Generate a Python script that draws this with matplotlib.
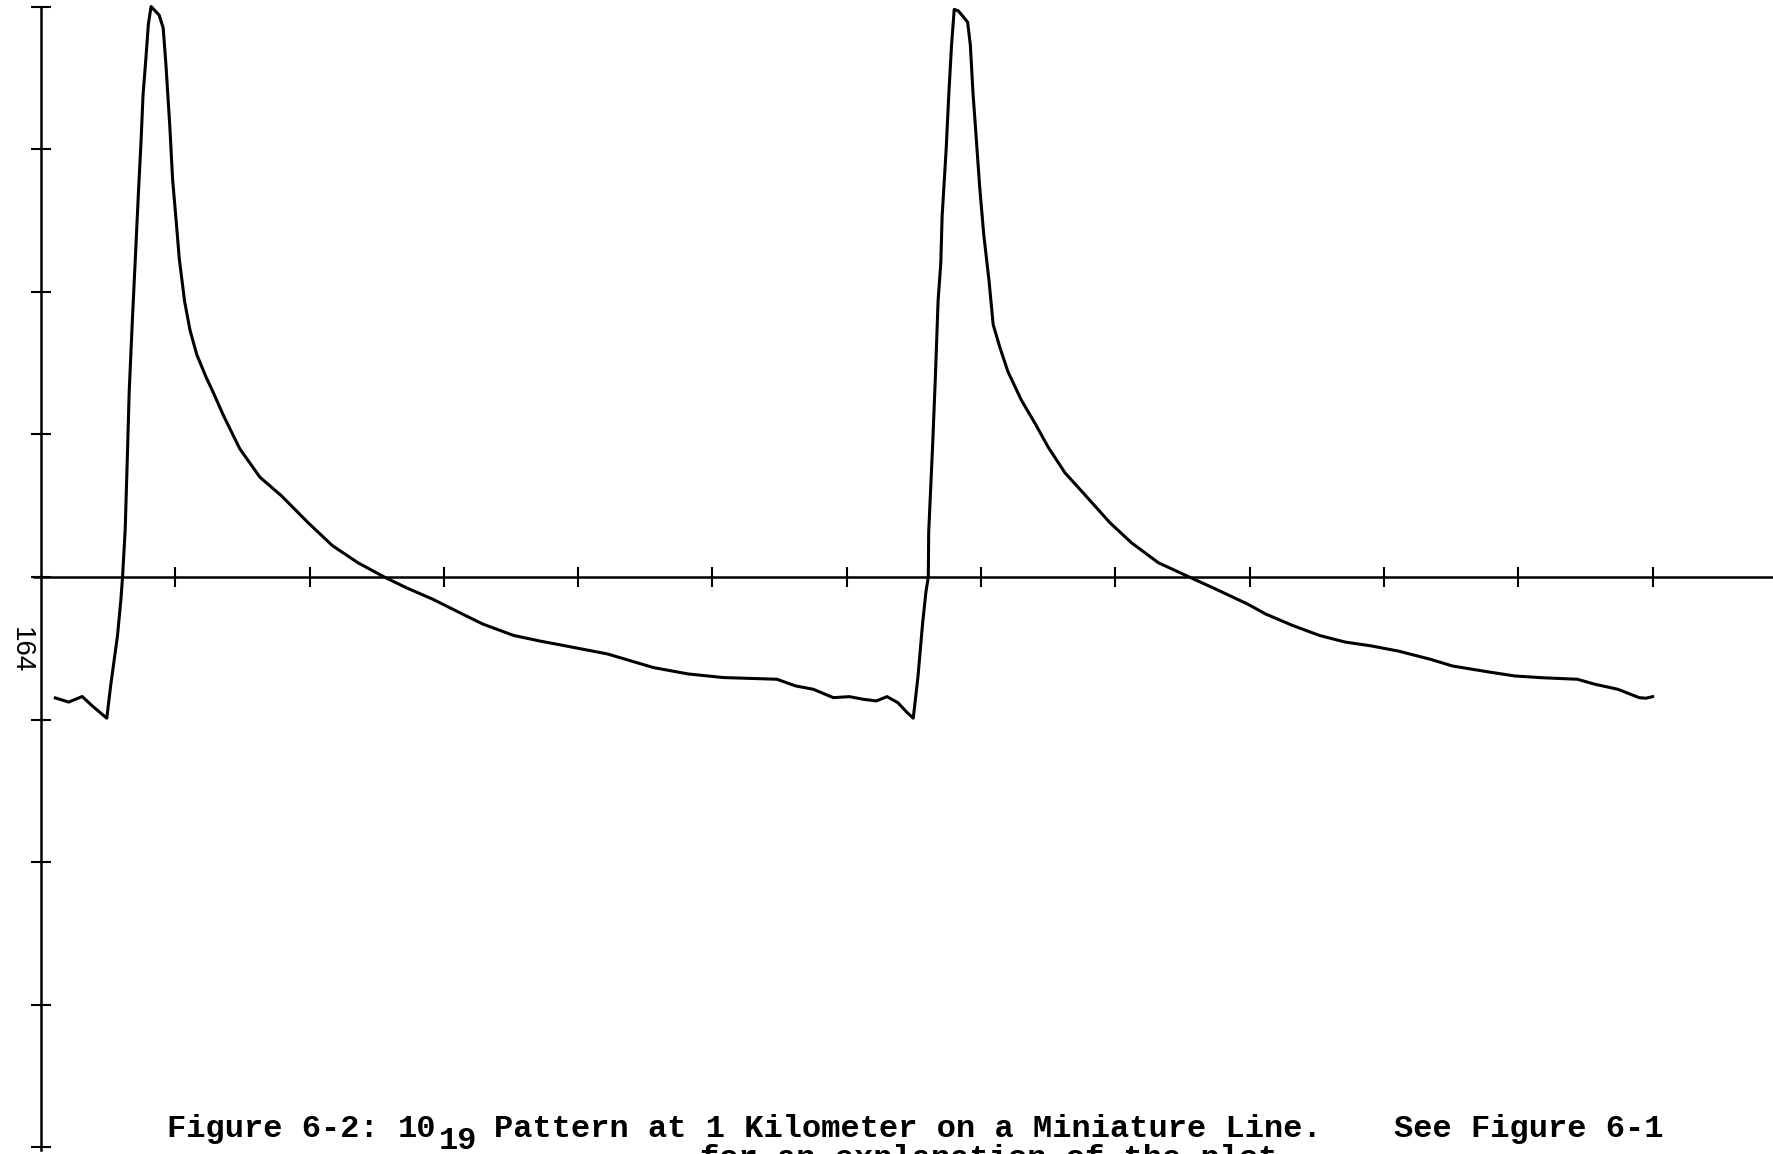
import numpy as np
import matplotlib.pyplot as plt

trace_x = [0.107, 0.207, 0.307, 0.382, 0.44, 0.49, 0.52, 0.57, 0.595, 0.6075,
           0.6275, 0.645, 0.657, 0.68, 0.707, 0.727, 0.745, 0.76, 0.78, 0.80,
           0.82, 0.85, 0.88, 0.91, 0.93, 0.96, 0.98, 1.01, 1.03, 1.07,
           1.11, 1.16, 1.23, 1.28, 1.36, 1.48, 1.63, 1.79, 1.99, 2.17,
           2.36, 2.556, 2.72, 2.92, 3.16, 3.29, 3.52, 3.72, 3.89, 4.22,
           4.56, 4.82, 5.08, 5.48, 5.62, 5.75, 5.90, 6.02, 6.12, 6.22,
           6.30, 6.38, 6.45, 6.495, 6.53, 6.565, 6.59, 6.607, 6.61, 6.64,
           6.66, 6.68, 6.70, 6.71, 6.74, 6.76, 6.78, 6.80, 6.83, 6.875,
           6.90, 6.92, 6.94, 6.96, 6.99, 7.02, 7.06, 7.09, 7.14, 7.20,
           7.30, 7.40, 7.50, 7.625, 7.76, 7.96, 8.12, 8.32, 8.55, 8.75,
           8.985, 9.12, 9.32, 9.52, 9.71, 9.91, 10.11, 10.345, 10.51, 10.78,
           10.975, 11.17, 11.44, 11.57, 11.74, 11.90, 11.95, 12.0]
trace_y = [-0.848, -0.877, -0.838, -0.904, -0.95, -0.99, -0.755, -0.41, -0.16, 0.0,
           0.34, 0.90, 1.30, 1.79, 2.32, 2.72, 3.05, 3.38, 3.62, 3.88,
           4.00, 3.97, 3.94, 3.85, 3.60, 3.15, 2.79, 2.46, 2.23, 1.93,
           1.73, 1.56, 1.40, 1.30, 1.13, 0.90, 0.70, 0.57, 0.38, 0.22,
           0.10, 0.0, -0.075, -0.157, -0.27, -0.33, -0.41, -0.45, -0.48, -0.54,
           -0.635, -0.68, -0.705, -0.717, -0.764, -0.787, -0.846, -0.839, -0.857, -0.869,
           -0.839, -0.881, -0.951, -0.99, -0.70, -0.32, -0.10, 0.0, 0.315, 0.94,
           1.41, 1.94, 2.20, 2.53, 3.0, 3.39, 3.73, 3.98, 3.97, 3.92,
           3.89, 3.73, 3.39, 3.13, 2.73, 2.40, 2.07, 1.77, 1.61, 1.44,
           1.24, 1.08, 0.91, 0.73, 0.59, 0.38, 0.24, 0.10, 0.0, -0.086,
           -0.19, -0.26, -0.34, -0.41, -0.456, -0.484, -0.52, -0.577, -0.624, -0.666,
           -0.694, -0.706, -0.717, -0.752, -0.787, -0.846, -0.85, -0.839]

# Axis divisions
x_ticks = list(range(1, 13))
y_ticks = list(range(-4, 5))

# Caption pieces (typewritten) and page number
caption_figure = "Figure 6-2:"
caption_base = "10"
caption_sub = "19"
caption_main = "Pattern at 1 Kilometer on a Miniature Line."
caption_see = "See Figure 6-1"
caption_next = "for an explanation of the plot."
page_number = "164"

W, H = 1774, 1154
fig = plt.figure(figsize=(W / 100, H / 100), dpi=100)
ax = fig.add_axes([0, 0, 1, 1])
ax.set_xlim(-0.305, 12.904)
ax.set_ylim(-4.046, 4.046)

# Trace
ax.plot(trace_x, trace_y, color="black", lw=2.2, solid_joinstyle="round")

# Axes drawn through the origin, ticks crossing the lines
for side in ["top", "right"]:
    ax.spines[side].set_visible(False)
ax.spines["left"].set_position(("data", 0))
ax.spines["bottom"].set_position(("data", 0))
ax.spines["left"].set_bounds(-4.02, 4.0)
ax.spines["bottom"].set_bounds(-0.05, 12.9)
for side in ["left", "bottom"]:
    ax.spines[side].set_linewidth(1.8)
ax.set_xticks(x_ticks)
ax.set_yticks(y_ticks)
ax.tick_params(direction="inout", length=14, width=1.5, color="black",
               labelleft=False, labelbottom=False)
ax.patch.set_alpha(0)


def px_text(x, y, s, **kw):
    # place text by pixel position (y measured from the top)
    fig.text(x / W, 1 - y / H, s, **kw)


cap = dict(family=["Liberation Mono", "DejaVu Sans Mono"], fontsize=23,
           fontweight="bold", va="baseline", ha="left", color="black")
px_text(167, 1137, caption_figure, **cap)
px_text(398, 1137, caption_base, **cap)
px_text(439, 1149, caption_sub, **cap)
px_text(494, 1137, caption_main, **cap)
px_text(1394, 1137, caption_see, **cap)
# second caption line runs off the bottom of the page, as in the scan
px_text(700, 1167, caption_next, **cap)

px_text(21, 650, page_number, family=["Liberation Sans", "DejaVu Sans"],
        fontsize=20, rotation=-90, ha="center", va="center")

plt.savefig("out.png", dpi=100, facecolor="white")
